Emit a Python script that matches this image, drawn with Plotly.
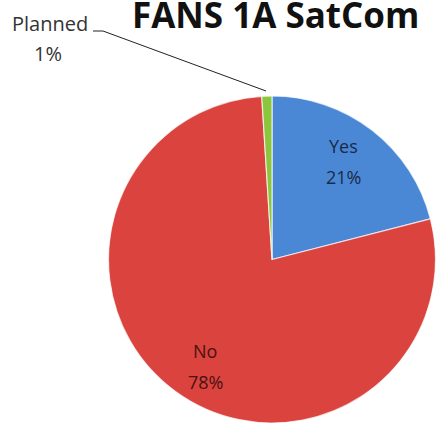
import plotly.graph_objects as go

labels = ["Yes", "No", "Planned"]
values = [21, 78, 1]
colors = ["#4a88d6", "#da433e", "#8cc63f"]
text_colors = ["#1a2a48", "#4a1210", "#333333"]
title = "FANS 1A SatCom"

W, H = 436, 423

def px(x, y):
    # window pixel -> paper coords
    return x / W, 1 - y / H

R = 164
cx, cy = 272, 260
dx0, dy1 = px(cx - R, cy - R)
dx1, dy0 = px(cx + R, cy + R)

fig = go.Figure(go.Pie(
    labels=labels,
    values=values,
    sort=False,
    direction="clockwise",
    rotation=0,
    textinfo="none",
    hoverinfo="label+percent",
    marker=dict(colors=colors, line=dict(color="rgba(255,255,255,0.7)", width=1.2)),
    domain=dict(x=[dx0, min(dx1, 1)], y=[max(dy0, 0), dy1]),
    showlegend=False,
))

annots = []
tx, ty = px(275, 14)
annots.append(dict(x=tx, y=ty, xref="paper", yref="paper", text="<b>" + title + "</b>",
                   showarrow=False, font=dict(family="Open Sans", size=35, color="#111111"),
                   xanchor="center", yanchor="middle"))

label_pos = {"Yes": ((343, 146), (343, 177)),
             "No": ((205, 351), (205, 382)),
             "Planned": ((50, 24), (48, 54))}
label_sizes = {"Yes": 18, "No": 18, "Planned": 20}
for lab, val, tc in zip(labels, values, text_colors):
    (nx, ny), (vx, vy) = label_pos[lab]
    size = label_sizes[lab]
    for (xx, yy), t in (((nx, ny), lab), ((vx, vy), f"{val}%")):
        x, y = px(xx, yy)
        annots.append(dict(x=x, y=y, xref="paper", yref="paper",
                           text=t, showarrow=False,
                           font=dict(family="Open Sans", size=size, color=tc),
                           xanchor="center", yanchor="middle", align="center"))

x0, y0 = px(93, 31)
x1, y1 = px(103, 31)
x2, y2 = px(266, 91)
shapes = [dict(type="path", xref="paper", yref="paper",
               path=f"M {x0} {y0} L {x1} {y1} L {x2} {y2}",
               line=dict(color="#222222", width=1))]

fig.update_layout(
    width=W, height=H,
    margin=dict(l=0, r=0, t=0, b=0),
    paper_bgcolor="white", plot_bgcolor="white",
    annotations=annots, shapes=shapes,
)
fig.write_html("out.html", config={"displayModeBar": False},
               post_script="document.body.style.margin='0';")
